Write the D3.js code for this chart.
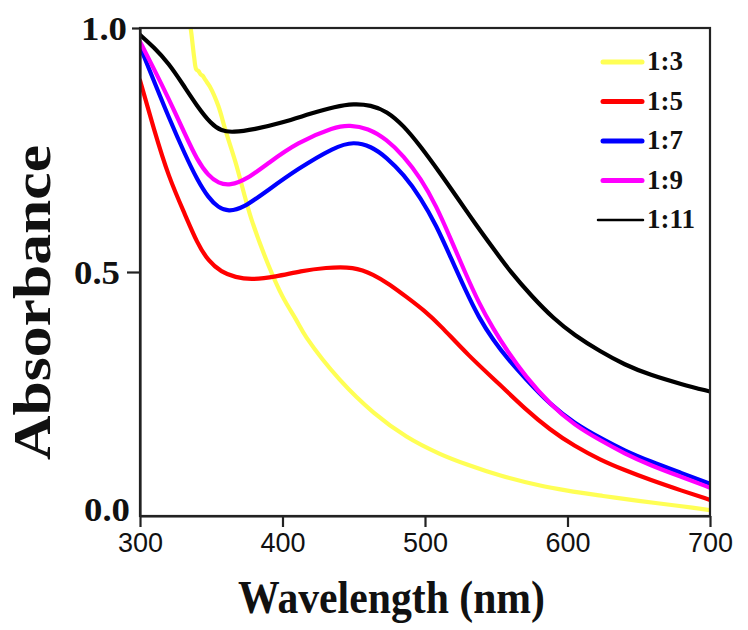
<!DOCTYPE html>
<html>
<head>
<meta charset="utf-8">
<script src="https://cdn.jsdelivr.net/npm/d3@7/dist/d3.min.js"></script>
<style>
html,body{margin:0;padding:0;background:#fff;}
svg{display:block;}
</style>
</head>
<body>
<svg id="chart" width="748" height="630"></svg>
<script>
// ---- data ----
const seriesNames = ["1:3", "1:5", "1:7", "1:9", "1:11"];
const seriesColors = ["#ffff55", "#ff0000", "#0000ff", "#ff00ff", "#000000"];

const wl_13 = [334, 336, 338, 339.5, 341, 342.5, 344, 346, 349, 355, 360, 367, 378, 390, 400, 409, 417, 440, 464, 487, 510, 530, 553, 580, 600, 625, 650, 680, 700];
const ab_13 = [1.03, 0.99, 0.94, 0.915, 0.912, 0.905, 0.902, 0.893, 0.88, 0.84, 0.79, 0.725, 0.61, 0.515, 0.45, 0.405, 0.365, 0.28, 0.212, 0.163, 0.128, 0.105, 0.083, 0.063, 0.052, 0.041, 0.031, 0.02, 0.012];

const wl_15 = [300, 310, 320, 332, 340, 348, 357, 367, 378, 395, 413, 430, 450, 464, 475, 487, 500, 511, 530, 553, 570, 588, 605, 623, 640, 658, 680, 700];
const ab_15 = [0.893, 0.79, 0.695, 0.615, 0.56, 0.522, 0.50, 0.489, 0.484, 0.49, 0.502, 0.509, 0.511, 0.495, 0.475, 0.449, 0.42, 0.39, 0.33, 0.268, 0.22, 0.176, 0.143, 0.115, 0.094, 0.074, 0.052, 0.033];

const wl_17 = [300, 310, 320, 332, 340, 348, 355, 362, 372, 390, 410, 437, 450, 462, 473, 485, 497, 508, 518, 528, 538, 548, 558, 570, 588, 605, 623, 640, 658, 680, 700];
const ab_17 = [0.962, 0.89, 0.818, 0.738, 0.69, 0.652, 0.632, 0.624, 0.63, 0.668, 0.71, 0.757, 0.767, 0.758, 0.735, 0.70, 0.652, 0.595, 0.53, 0.465, 0.405, 0.36, 0.322, 0.283, 0.228, 0.19, 0.16, 0.134, 0.112, 0.088, 0.066];

const wl_19 = [300, 310, 320, 332, 340, 348, 355, 363, 375, 390, 410, 437, 447, 460, 473, 485, 497, 508, 518, 528, 538, 548, 558, 570, 588, 605, 623, 640, 658, 680, 700];
const ab_19 = [0.972, 0.915, 0.856, 0.78, 0.73, 0.697, 0.682, 0.677, 0.69, 0.723, 0.765, 0.798, 0.801, 0.795, 0.772, 0.738, 0.692, 0.635, 0.568, 0.50, 0.435, 0.383, 0.337, 0.288, 0.228, 0.186, 0.155, 0.128, 0.104, 0.08, 0.058];

const wl_111 = [300, 310, 320, 330, 340, 350, 357, 365, 380, 400, 420, 437, 450, 462, 473, 485, 497, 510, 522, 535, 548, 560, 575, 590, 605, 623, 640, 658, 680, 700];
const ab_111 = [0.986, 0.96, 0.928, 0.885, 0.84, 0.803, 0.789, 0.786, 0.792, 0.806, 0.825, 0.839, 0.845, 0.842, 0.83, 0.80, 0.757, 0.705, 0.655, 0.60, 0.548, 0.50, 0.45, 0.405, 0.37, 0.337, 0.31, 0.289, 0.27, 0.255];

const seriesWl = [wl_13, wl_15, wl_17, wl_19, wl_111];
const seriesAb = [ab_13, ab_15, ab_17, ab_19, ab_111];

const xTicks = [300, 400, 500, 600, 700];
const yTicks = [0.0, 0.5, 1.0];
const xTitle = "Wavelength (nm)";
const yTitle = "Absorbance";

// ---- layout ----
const W = 748, H = 630;
const margin = {left: 140, top: 28, right: 38, bottom: 114};
const pw = W - margin.left - margin.right;
const ph = H - margin.top - margin.bottom;

const svg = d3.select("#chart");
const x = d3.scaleLinear().domain([300, 700]).range([margin.left, margin.left + pw]);
const y = d3.scaleLinear().domain([0, 1]).range([margin.top + ph, margin.top]);

svg.append("defs").append("clipPath").attr("id", "clip")
  .append("rect").attr("x", margin.left).attr("y", margin.top).attr("width", pw).attr("height", ph);

// ---- curves ----
const lineSmooth = d3.line().x(d => x(d[0])).y(d => y(d[1])).curve(d3.curveBasis);
const lineRaw = d3.line().x(d => x(d[0])).y(d => y(d[1])).curve(d3.curveCatmullRom.alpha(0.5));
const gLines = svg.append("g").attr("clip-path", "url(#clip)");
seriesNames.forEach((name, i) => {
  const pts = seriesWl[i].map((w, j) => [w, seriesAb[i][j]]);
  gLines.append("path").datum(pts)
    .attr("d", i === 0 ? lineRaw : lineSmooth)
    .attr("fill", "none")
    .attr("stroke", seriesColors[i])
    .attr("stroke-width", 4.2)
    .attr("stroke-linejoin", "round")
    .attr("stroke-linecap", "round");
});

// ---- frame ----
const frameColor = "#222";
svg.append("rect")
  .attr("x", margin.left).attr("y", margin.top).attr("width", pw).attr("height", ph)
  .attr("fill", "none").attr("stroke", frameColor).attr("stroke-width", 2.2);

// ---- axes ----
const xAxis = d3.axisBottom(x).tickValues(xTicks).tickSizeInner(11).tickSizeOuter(0).tickPadding(6).tickFormat(d3.format("d"));
const gx = svg.append("g").attr("transform", `translate(0,${margin.top + ph})`).call(xAxis);
gx.select(".domain").attr("stroke", frameColor).attr("stroke-width", 2.2);
gx.selectAll(".tick line").attr("stroke", frameColor).attr("stroke-width", 2.2);
gx.selectAll(".tick text")
  .attr("fill", "#111")
  .style("font-family", "'Liberation Sans', Arial, sans-serif")
  .style("font-size", "27px");

const yAxis = d3.axisLeft(y).tickValues(yTicks).tickSizeInner(12).tickSizeOuter(0).tickPadding(4).tickFormat(d3.format(".1f"));
const gy = svg.append("g").attr("transform", `translate(${margin.left},0)`).call(yAxis);
gy.select(".domain").attr("stroke", frameColor).attr("stroke-width", 2.2);
gy.selectAll(".tick line").attr("stroke", frameColor).attr("stroke-width", 2.2)
  .attr("x2", d => d === 0 ? 0 : (d === 1 ? -8 : -13));
gy.selectAll(".tick text")
  .attr("fill", "#111")
  .attr("x", d => d === 0 ? -10 : (d === 1 ? -13 : -20))
  .attr("dy", d => d === 0 ? "4px" : "11px")
  .attr("textLength", 46).attr("lengthAdjust", "spacingAndGlyphs")
  .style("font-family", "'Liberation Serif', 'Times New Roman', serif")
  .style("font-weight", "bold")
  .style("font-size", "33px");

// ---- titles ----
svg.append("text")
  .attr("x", 391.5).attr("y", 613)
  .attr("text-anchor", "middle")
  .attr("textLength", 307).attr("lengthAdjust", "spacingAndGlyphs")
  .style("font-family", "'Liberation Serif', 'Times New Roman', serif")
  .style("font-weight", "bold").style("font-size", "46px")
  .attr("fill", "#111")
  .text(xTitle);

svg.append("text")
  .attr("transform", "translate(50,302.5) rotate(-90)")
  .attr("text-anchor", "middle")
  .attr("textLength", 315).attr("lengthAdjust", "spacingAndGlyphs")
  .style("font-family", "'Liberation Serif', 'Times New Roman', serif")
  .style("font-weight", "bold").style("font-size", "53px")
  .attr("fill", "#111")
  .text(yTitle);

// ---- legend ----
const legend = svg.append("g");
seriesNames.forEach((name, i) => {
  const ly = 62 + i * 39.5;
  const isBlack = i === seriesNames.length - 1;
  legend.append("line")
    .attr("x1", isBlack ? 598 : 603).attr("x2", isBlack ? 643 : 642)
    .attr("y1", ly).attr("y2", ly)
    .attr("stroke", seriesColors[i])
    .attr("stroke-width", isBlack ? 2.5 : 5)
    .attr("stroke-linecap", "round");
  legend.append("text")
    .attr("x", 647).attr("y", ly + 8)
    .style("font-family", "'Liberation Serif', 'Times New Roman', serif")
    .style("font-weight", "bold").style("font-size", "27px")
    .attr("fill", "#111")
    .text(name);
});
</script>
</body>
</html>
